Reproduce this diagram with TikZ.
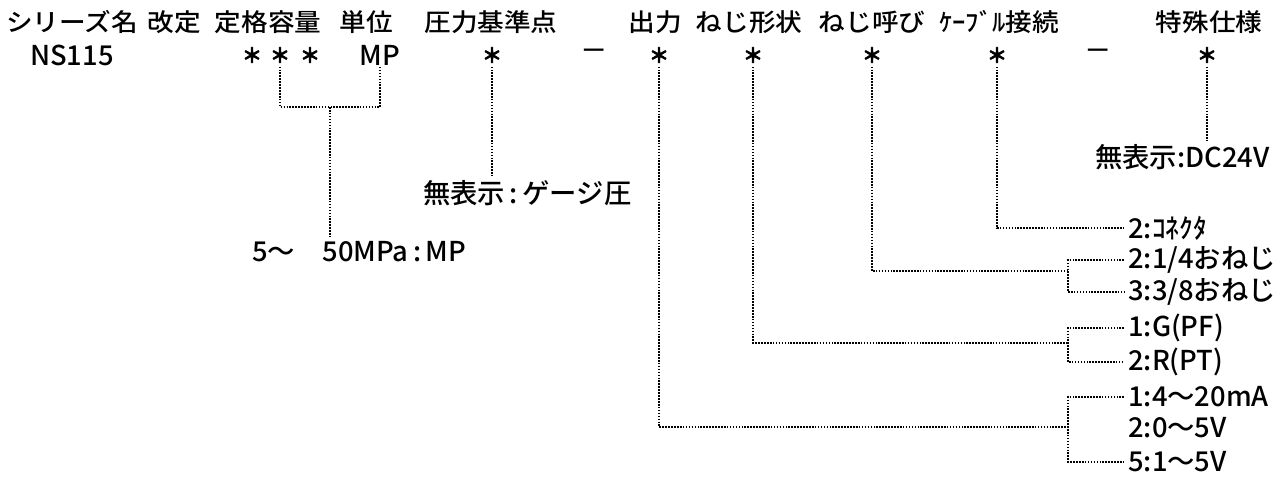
\documentclass[tikz,border=0pt]{standalone}
\usepackage{fontspec}
\setmainfont{Noto Sans CJK JP}[UprightFont=* Medium]
\newfontfamily\headFont{Noto Sans CJK JP}[UprightFont=* Medium, FakeStretch=1.08]
\newfontfamily\starFont{Noto Sans CJK JP}[UprightFont=* Bold, FakeBold=3]
\usepackage{tikz}

\newcommand{\headRow}{22}
\newcommand{\codeRow}{55}
\newcommand{\brX}{1068}
\newcommand{\lblX}{1124}
\newcommand{ \headSty }[1]{\headFont \fontsize{18.5}{20}\selectfont #1}
\newcommand{ \lblSty }[1]{\fontsize{20.5}{22}\selectfont #1}
\newcommand{ \starSty }{\starFont \fontsize{15}{17}\selectfont ＊}

\begin{document}
\begin{tikzpicture}[x=0.75pt, y=-0.75pt,
    codeBox/.style={inner sep=0pt, minimum height=17pt},
    lbl/.style={anchor=west, inner sep=3pt},
    dotline/.style={line width=1.4pt, dash pattern=on 1.2pt off 1pt}]

		% page
		\useasboundingbox (0,0) rectangle (1280,477);

		% headings
		\node (hSeries) at (72,\headRow) {\headSty{シリーズ名}};
		\node (hRev)    at (174,\headRow) {\headSty{改定}};
		\node (hCap)    at (268,\headRow) {\headSty{定格容量}};
		\node (hUnit)   at (366,\headRow) {\headSty{単位}};
		\node (hRef)    at (491,\headRow) {\headSty{圧力基準点}};
		\node (hOut)    at (655,\headRow) {\headSty{出力}};
		\node (hShape)  at (749,\headRow) {\headSty{ねじ形状}};
		\node (hSize)   at (872,\headRow) {\headSty{ねじ呼び}};
		\node (hCable)  at (999,\headRow) {\headSty{ｹｰﾌﾞﾙ接続}};
		\node (hSpec)   at (1209,\headRow) {\headSty{特殊仕様}};

		% code row
		\node[codeBox] (sSeries) at (72,\codeRow) {\lblSty{NS115}};
		\node[codeBox] (sCapA) at (252,\codeRow) {\starSty};
		\node[codeBox] (sCapB) at (280,\codeRow) {\starSty};
		\node[codeBox] (sCapC) at (310,\codeRow) {\starSty};
		\node[codeBox] (sMP)   at (380,\codeRow) {\lblSty{MP}};
		\node[codeBox] (sRef)  at (492,\codeRow) {\starSty};
		\node[codeBox] (dashA) at (594,\codeRow) {\lblSty{－}};
		\node[codeBox] (sOut)  at (659,\codeRow) {\starSty};
		\node[codeBox] (sShape) at (753,\codeRow) {\starSty};
		\node[codeBox] (sSize) at (872,\codeRow) {\starSty};
		\node[codeBox] (sCable) at (997,\codeRow) {\starSty};
		\node[codeBox] (dashB) at (1098,\codeRow) {\lblSty{－}};
		\node[codeBox] (sSpec) at (1207,\codeRow) {\starSty};

		% option labels
		\node[lbl] (lCap)    at (248,252) {\lblSty{5～　50MPa\,:\,MP}};
		\node[lbl] (lRef)    at (419,193) {\lblSty{無表示\,:\,ゲージ圧}};
		\node[lbl] (lSpec)   at (1091,157) {\lblSty{無表示:DC24V}};
		\node[lbl] (lCable)  at (\lblX,228) {\lblSty{2:ｺﾈｸﾀ}};
		\node[lbl] (lSize2)  at (\lblX,260) {\lblSty{2:1/4おねじ}};
		\node[lbl] (lSize3)  at (\lblX,292) {\lblSty{3:3/8おねじ}};
		\node[lbl] (lShape1) at (\lblX,328) {\lblSty{1:G(PF)}};
		\node[lbl] (lShape2) at (\lblX,362) {\lblSty{2:R(PT)}};
		\node[lbl] (lOut1)   at (\lblX,397) {\lblSty{1:4～20mA}};
		\node[lbl] (lOut2)   at (\lblX,428) {\lblSty{2:0～5V}};
		\node[lbl] (lOut5)   at (\lblX,462) {\lblSty{5:1～5V}};

		% junctions
		\coordinate (jCap)   at (330,107);
		\coordinate (jSize)  at (\brX,271);
		\coordinate (jShape) at (\brX,343);
		\coordinate (jOut)   at (\brX,427);

		% capacity and unit
		\draw[dotline] (sCapB.south) |- (jCap) -| (sMP.south);
		\draw[dotline] (jCap) -- (jCap |- lCap.north);

		% pressure reference
		\draw[dotline] (sRef.south) -- (sRef.south |- lRef.north);

		% special spec
		\draw[dotline] (sSpec.south) -- (sSpec.south |- lSpec.north);

		% cable
		\draw[dotline] (sCable.south) |- (lCable.west);

		% screw size
		\draw[dotline] (sSize.south) |- (jSize);
		\draw[dotline] (lSize2.west) -| (jSize) |- (lSize3.west);

		% screw shape
		\draw[dotline] (sShape.south) |- (jShape);
		\draw[dotline] (lShape1.west) -| (jShape) |- (lShape2.west);

		% output
		\draw[dotline] (sOut.south) |- (jOut);
		\draw[dotline] (lOut1.west) -| (jOut) |- (lOut5.west);

\end{tikzpicture}
\end{document}
